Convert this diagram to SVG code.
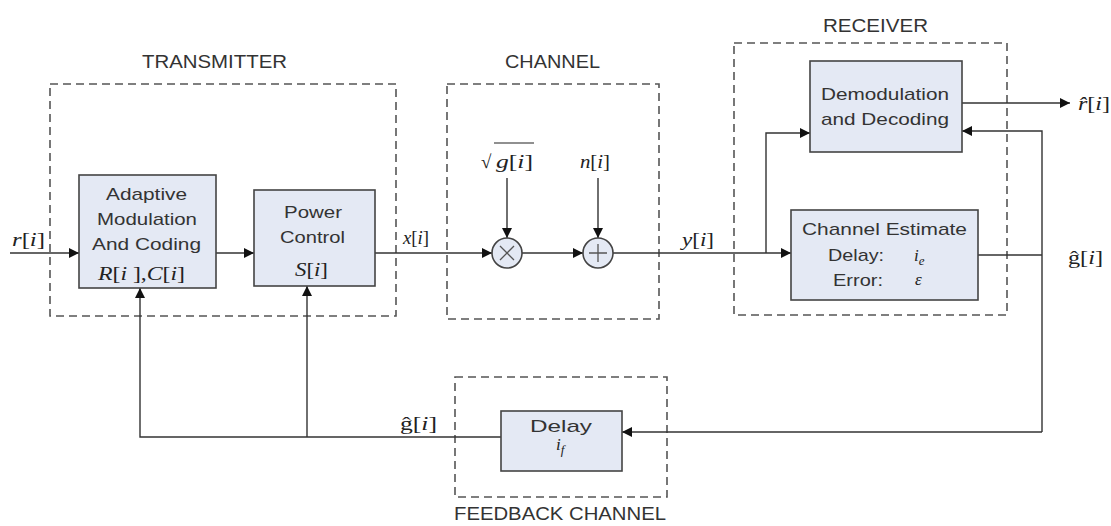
<svg xmlns="http://www.w3.org/2000/svg" width="1111" height="526" viewBox="0 0 1111 526">
<style>
.grp{fill:none;stroke:#555;stroke-width:1.6;stroke-dasharray:8,5}
.blk{fill:#e4e9f4;stroke:#444;stroke-width:1.6}
.ln{fill:none;stroke:#333;stroke-width:1.4}
.t{font-family:"Liberation Sans",Arial,sans-serif;font-size:17px;fill:#333;text-anchor:middle}
.tt{font-family:"Liberation Sans",Arial,sans-serif;font-size:19px;fill:#333;text-anchor:middle}
.m{font-family:"Liberation Serif","Times New Roman",serif;font-size:19px;fill:#222}
.mi{font-style:italic}
</style>
<defs>
<marker id="ah" viewBox="0 0 10 10" refX="10" refY="5" markerWidth="14" markerHeight="10" markerUnits="userSpaceOnUse" orient="auto">
<path d="M0,0 L10,5 L0,10 z" fill="#111"/>
</marker>
</defs>
<rect width="1111" height="526" fill="#fff"/>

<g id="groups">
<rect class="grp" x="50" y="84" width="346" height="232"/>
<text class="tt" x="214.5" y="68" textLength="145" lengthAdjust="spacingAndGlyphs">TRANSMITTER</text>
<rect class="grp" x="447" y="84" width="212" height="235"/>
<text class="tt" x="552.5" y="68" textLength="95" lengthAdjust="spacingAndGlyphs">CHANNEL</text>
<rect class="grp" x="734" y="43" width="273" height="272"/>
<text class="tt" x="875.5" y="32" textLength="105" lengthAdjust="spacingAndGlyphs">RECEIVER</text>
<rect class="grp" x="455" y="377" width="212" height="120"/>
<text class="tt" x="560" y="520" font-size="18" textLength="212" lengthAdjust="spacingAndGlyphs">FEEDBACK CHANNEL</text>
</g>

<g id="connectors">
<line class="ln" x1="10" y1="253" x2="79" y2="253" marker-end="url(#ah)"/>
<line class="ln" x1="216" y1="253" x2="254" y2="253" marker-end="url(#ah)"/>
<line class="ln" x1="375" y1="253" x2="492" y2="253" marker-end="url(#ah)"/>
<line class="ln" x1="522" y1="253" x2="583" y2="253" marker-end="url(#ah)"/>
<line class="ln" x1="613" y1="253" x2="791" y2="253" marker-end="url(#ah)"/>
<polyline class="ln" points="766,253 766,133 810,133" marker-end="url(#ah)"/>
<line class="ln" x1="507" y1="178" x2="507" y2="238" marker-end="url(#ah)"/>
<line class="ln" x1="598" y1="178" x2="598" y2="238" marker-end="url(#ah)"/>
<line class="ln" x1="962" y1="103" x2="1070" y2="103" marker-end="url(#ah)"/>
<line class="ln" x1="978" y1="255" x2="1042" y2="255"/>
<polyline class="ln" points="1042,432 1042,131 962,131" marker-end="url(#ah)"/>
<line class="ln" x1="1042" y1="432" x2="622" y2="432" marker-end="url(#ah)"/>
<polyline class="ln" points="501,437 140,437 140,288" marker-end="url(#ah)"/>
<line class="ln" x1="307" y1="437" x2="307" y2="286" marker-end="url(#ah)"/>
</g>

<g id="adaptive">
<rect class="blk" x="79" y="175" width="137" height="113"/>
<text class="t" x="146.5" y="200" textLength="81" lengthAdjust="spacingAndGlyphs">Adaptive</text>
<text class="t" x="147" y="225" textLength="100" lengthAdjust="spacingAndGlyphs">Modulation</text>
<text class="t" x="146.5" y="250" textLength="109" lengthAdjust="spacingAndGlyphs">And Coding</text>
<text class="m" x="98" y="280" textLength="87" lengthAdjust="spacingAndGlyphs"><tspan class="mi">R</tspan>[<tspan class="mi">i</tspan> ],<tspan class="mi">C</tspan>[<tspan class="mi">i</tspan>]</text>
</g>

<g id="power">
<rect class="blk" x="254" y="190" width="121" height="96"/>
<text class="t" x="313" y="218" textLength="58" lengthAdjust="spacingAndGlyphs">Power</text>
<text class="t" x="312.5" y="243" textLength="65" lengthAdjust="spacingAndGlyphs">Control</text>
<text class="m" x="295" y="276" textLength="33" lengthAdjust="spacingAndGlyphs"><tspan class="mi">S</tspan>[<tspan class="mi">i</tspan>]</text>
</g>

<g id="mult">
<circle class="blk" cx="507" cy="253" r="15"/>
<path d="M500,246 L514,260 M514,246 L500,260" stroke="#555" stroke-width="1.3"/>
</g>

<g id="add">
<circle class="blk" cx="598" cy="253" r="15"/>
<path d="M598,244 L598,262 M589,253 L607,253" stroke="#555" stroke-width="1.3"/>
</g>

<g id="demod">
<rect class="blk" x="810" y="61" width="152" height="91"/>
<text class="t" x="885" y="100" font-size="18" textLength="128" lengthAdjust="spacingAndGlyphs">Demodulation</text>
<text class="t" x="885" y="125" font-size="18" textLength="128" lengthAdjust="spacingAndGlyphs">and Decoding</text>
</g>

<g id="chest">
<rect class="blk" x="791" y="210" width="187" height="90"/>
<text class="t" x="884.5" y="235" textLength="165" lengthAdjust="spacingAndGlyphs">Channel Estimate</text>
<text class="t" x="856" y="261" text-anchor="start" textLength="56" lengthAdjust="spacingAndGlyphs">Delay:</text>
<text class="m" x="914" y="261"><tspan class="mi" font-size="17">i</tspan><tspan class="mi" font-size="13" dy="4">e</tspan></text>
<text class="t" x="858" y="286" text-anchor="start" textLength="50" lengthAdjust="spacingAndGlyphs">Error:</text>
<text class="m" x="915" y="285"><tspan class="mi" font-size="17">ε</tspan></text>
</g>

<g id="delay">
<rect class="blk" x="501" y="411" width="121" height="60"/>
<text class="t" x="561" y="432" font-size="22" textLength="62" lengthAdjust="spacingAndGlyphs">Delay</text>
<text class="m" x="556" y="450"><tspan class="mi" font-size="17">i</tspan><tspan class="mi" font-size="13" dy="4">f</tspan></text>
</g>

<g id="labels">
<text class="m" x="12" y="246" textLength="33" lengthAdjust="spacingAndGlyphs"><tspan class="mi">r</tspan>[<tspan class="mi">i</tspan>]</text>
<text class="m" x="403" y="244" textLength="26" lengthAdjust="spacingAndGlyphs"><tspan class="mi">x</tspan>[<tspan class="mi">i</tspan>]</text>
<text class="m" x="682" y="246" textLength="32" lengthAdjust="spacingAndGlyphs"><tspan class="mi">y</tspan>[<tspan class="mi">i</tspan>]</text>
<text class="m" x="481" y="168" font-size="21">√</text>
<line x1="494" y1="143" x2="534" y2="143" stroke="#222" stroke-width="1.1"/>
<text class="m" x="496" y="168" textLength="37" lengthAdjust="spacingAndGlyphs"><tspan class="mi">g</tspan>[<tspan class="mi">i</tspan>]</text>
<text class="m" x="580" y="168" textLength="30" lengthAdjust="spacingAndGlyphs"><tspan class="mi">n</tspan>[<tspan class="mi">i</tspan>]</text>
<text class="m" x="1078" y="110" textLength="32" lengthAdjust="spacingAndGlyphs"><tspan class="mi">r̂</tspan>[<tspan class="mi">i</tspan>]</text>
<text class="m" x="1068" y="264" textLength="35" lengthAdjust="spacingAndGlyphs">ĝ[<tspan class="mi">i</tspan>]</text>
<text class="m" x="400" y="430" textLength="37" lengthAdjust="spacingAndGlyphs">ĝ[<tspan class="mi">i</tspan>]</text>
</g>
</svg>
